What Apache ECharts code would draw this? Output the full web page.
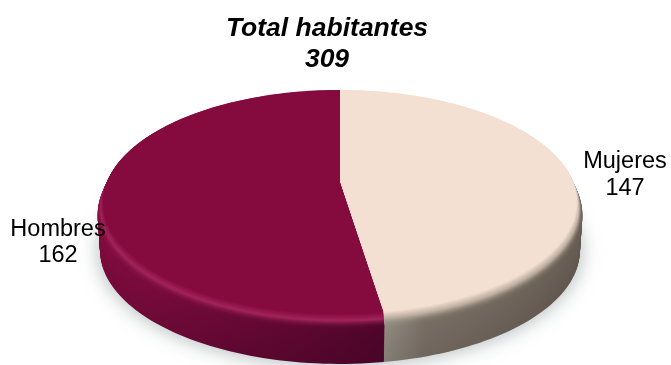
<!DOCTYPE html>
<html><head><meta charset="utf-8">
<style>html,body{margin:0;padding:0;background:#fff}#c{width:671px;height:365px}</style>
<script src="https://cdn.jsdelivr.net/npm/echarts@6/dist/echarts.min.js"></script>
</head><body><div id="c"></div>
<script>
// data
const categories = ['Mujeres', 'Hombres'];
const values = [147, 162];
const titleText = 'Total habitantes';
const totalValue = 309;

// styles per slice
const faceColors = ['#f4e0d2', '#850a3e'];
const midColors = ['#b9ab9e', '#a3245a'];
const wallStops = [
  [[385, '#928b81'], [425, '#7b7066'], [583, '#6a5f55']],
  [[97, '#840c40'], [250, '#660835'], [384, '#50052b']]
];
const labelPos = [[625, 162, 189], [58, 230, 256]];

// projection of the disc
const CX = 340, CY = 185, A = 110.8, B = 0.191, C = 238.5, DEPTH = 44;
const total = values.reduce((a, b) => a + b, 0);

function hex(c) { return [1, 3, 5].map(i => parseInt(c.substr(i, 2), 16)); }
function mix(a, b, t) {
  const x = hex(a), y = hex(b);
  return 'rgb(' + x.map((v, i) => Math.round(v + (y[i] - v) * t)).join(',') + ')';
}
function project(theta, r, s) {
  const u = r * Math.sin(theta), v = -r * Math.cos(theta);
  const d = 1 - B * v;
  return [CX + C * u / d, CY + s + A * v / d];
}
function sector(a0, a1, r, s) {
  const pts = [[CX, CY + Math.max(s, -2)]];
  const n = Math.ceil((a1 - a0) / (Math.PI / 120));
  for (let i = 0; i <= n; i++) pts.push(project(a0 + (a1 - a0) * i / n, r, s));
  return pts;
}
function wallFill(idx, fn) {
  const st = wallStops[idx], x0 = st[0][0], x1 = st[st.length - 1][0];
  return new echarts.graphic.LinearGradient(x0, 0, x1, 0,
    st.map(p => ({ offset: (p[0] - x0) / (x1 - x0), color: fn(p[1]) })), true);
}

function renderSlice(params, api) {
  const idx = params.dataIndex;
  const val = api.value(0);
  let before = 0;
  for (let i = 0; i < idx; i++) before += values[i];
  const a0 = before / total * 2 * Math.PI, a1 = (before + val) / total * 2 * Math.PI;
  const children = [];
  const poly = (points, fill, extra) => children.push({
    type: 'polygon', silent: true, shape: { points },
    style: Object.assign({ fill, stroke: null }, extra || {})
  });
  const taper = s => 1 - 0.012 * Math.max(s, 0) / DEPTH;

  if (idx === 0) {
    poly(sector(0, 2 * Math.PI, taper(DEPTH), DEPTH - 3), '#e3e6e6', {
      shadowBlur: 20, shadowColor: 'rgba(110,125,125,0.6)', shadowOffsetY: 3
    });
  }
  // side wall
  for (let s = DEPTH; s > 8; s -= 1) {
    const dark = (s / DEPTH) * 0.1;
    poly(sector(a0, a1, taper(s), s), wallFill(idx, c => mix(c, '#000000', dark)));
  }
  // rounded bevel up to the top face
  const N = 24, face = faceColors[idx], midc = midColors[idx];
  for (let i = 0; i <= N; i++) {
    const t = i / N;
    const s = 8 - 12 * t;
    const r = taper(s) - 0.025 * t;
    let fill;
    if (t < 0.55) {
      const k = t / 0.55;
      fill = wallFill(idx, c => mix(c, midc, k * k));
    } else {
      fill = mix(midc, face, (t - 0.55) / 0.45);
    }
    poly(sector(a0, a1, r, s), fill);
  }
  const lp = labelPos[idx];
  [[categories[idx], lp[1]], [String(val), lp[2]]].forEach(([text, y]) => children.push({
    type: 'text', silent: true, z2: 100,
    style: { text, x: lp[0], y, align: 'center', verticalAlign: 'middle',
      fill: '#000', font: '23.5px "Liberation Sans", Arial, sans-serif' }
  }));
  return { type: 'group', children };
}

const chart = echarts.init(document.getElementById('c'), null, { renderer: 'canvas' });
chart.setOption({
  backgroundColor: '#fff',
  animation: false,
  title: {
    text: titleText + '\n' + totalValue,
    left: 322, top: 8, textAlign: 'center',
    textStyle: { fontFamily: '"Liberation Sans", Arial, sans-serif', fontSize: 26.5,
      fontWeight: 'bold', fontStyle: 'italic', color: '#000', lineHeight: 31 }
  },
  series: [{
    type: 'custom', coordinateSystem: 'none', silent: true,
    renderItem: renderSlice,
    data: values.map((v, i) => ({ name: categories[i], value: [v] }))
  }]
});
</script></body></html>
